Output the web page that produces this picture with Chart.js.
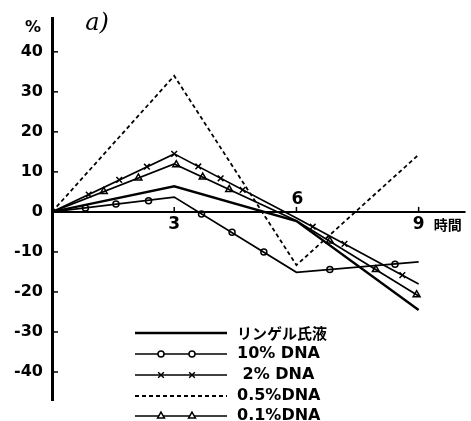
<!DOCTYPE html>
<html>
<head>
<meta charset="utf-8">
<script src="https://cdn.jsdelivr.net/npm/chart.js@4.4.0/dist/chart.umd.min.js"></script>
<style>
  html, body { margin: 0; padding: 0; background: #fff; }
  #wrap { width: 471px; height: 421px; }
</style>
</head>
<body>
<div id="wrap"><canvas id="grafico" width="471" height="421"></canvas></div>
<script>
// horas dos vértices (0, 3, 6, 9)
const horas = [0, 3, 6, 9];
const ringer = [0, 6.4, -2.3, -24.5];
const dna10 = [0, 3.7, -15.1, -12.5];
const dna2 = [0, 14.5, -1.5, -18];
const dna05 = [0, 34, -13.3, 14.3];
const dna01 = [0, 12, -2.2, -21];

// marcadores ao longo das linhas
const horasM10 = [0.82, 1.57, 2.37, 3.67, 4.42, 5.2, 6.82, 8.42];
const valM10 = [1.0, 2.0, 2.8, -0.5, -5.1, -10, -14.4, -13.1];
const horasM2 = [0.9, 1.65, 2.33, 3, 3.59, 4.14, 4.68, 6.4, 7.18, 8.6];
const valM2 = [4.35, 8.0, 11.3, 14.5, 11.35, 8.4, 5.5, -3.7, -8.0, -15.8];
const horasM01 = [1.27, 2.12, 3.05, 3.7, 4.35, 6.82, 7.95, 8.95];
const valM01 = [5.1, 8.5, 11.8, 8.7, 5.6, -7.3, -14.4, -20.7];

const yTicks = [40, 30, 20, 10, 0, -10, -20, -30, -40];
const xTicks = [3, 6, 9];
const legendas = ['リンゲル氏液', '10% DNA', ' 2% DNA', '0.5%DNA', '0.1%DNA'];

const pts = (xs, ys) => xs.map((x, i) => ({ x, y: ys[i] }));

const linha = (label, ys, extra) => Object.assign({
    label,
    data: pts(horas, ys),
    borderColor: '#000',
    borderWidth: 1.7,
    pointRadius: 0,
    tension: 0,
    fill: false
}, extra);

const marcas = (xs, ys, estilo, raio) => ({
    data: pts(xs, ys),
    showLine: false,
    pointStyle: estilo,
    pointRadius: raio,
    pointBorderWidth: 1.5,
    pointBorderColor: '#000',
    pointBackgroundColor: '#fff'
});

const estilos = [
    { dash: [], width: 2.4, mark: null },
    { dash: [], width: 1.7, mark: 'circle', r: 3 },
    { dash: [], width: 1.7, mark: 'crossRot', r: 4 },
    { dash: [4, 3], width: 1.8, mark: null },
    { dash: [], width: 1.7, mark: 'triangle', r: 4 }
];

const eixos = {
    id: 'eixos',
    afterDraw(chart) {
        const { ctx, scales: { x, y } } = chart;
        const y0 = y.getPixelForValue(0);
        ctx.save();
        ctx.strokeStyle = '#000';
        ctx.fillStyle = '#000';

        // eixo horizontal
        ctx.lineWidth = 2;
        ctx.beginPath();
        ctx.moveTo(x.left, y0);
        ctx.lineTo(x.right, y0);
        ctx.stroke();

        // marcas do eixo y
        ctx.lineWidth = 1.5;
        yTicks.forEach(v => {
            const py = y.getPixelForValue(v);
            ctx.beginPath();
            ctx.moveTo(x.left, py);
            ctx.lineTo(x.left + 6, py);
            ctx.stroke();
        });

        // marcas e rótulos do eixo x
        ctx.font = 'bold 17px "DejaVu Sans"';
        ctx.textAlign = 'center';
        ctx.textBaseline = 'middle';
        xTicks.forEach(v => {
            const px = x.getPixelForValue(v);
            ctx.beginPath();
            ctx.moveTo(px, y0 - 5);
            ctx.lineTo(px, y0);
            ctx.stroke();
            const ly = v === 6 ? y0 - 12 : y0 + 13;
            ctx.fillText(String(v), px + (v === 6 ? 1 : 0), ly);
        });
        ctx.font = 'bold 14px "Noto Sans CJK JP"';
        ctx.textAlign = 'left';
        ctx.fillText('時間', x.getPixelForValue(9) + 15, y0 + 13);

        ctx.font = 'bold 16px "DejaVu Sans"';
        ctx.textAlign = 'center';
        ctx.fillText('%', 33, 28);
        ctx.font = 'italic 24px "DejaVu Serif"';
        ctx.fillText('a)', 97, 24);

        // legenda
        legendas.forEach((txt, i) => {
            const ly = [333, 354, 375, 396, 416][i];
            const e = estilos[i];
            ctx.lineWidth = e.width;
            ctx.setLineDash(e.dash);
            ctx.beginPath();
            ctx.moveTo(135, ly);
            ctx.lineTo(227, ly);
            ctx.stroke();
            ctx.setLineDash([]);
            if (e.mark) {
                [161, 192].forEach(mx => {
                    ctx.lineWidth = 1.5;
                    ctx.fillStyle = '#fff';
                    Chart.helpers.drawPoint(ctx, { pointStyle: e.mark, radius: e.r, borderWidth: 1.5 }, mx, ly);
                });
                ctx.fillStyle = '#000';
            }
            ctx.font = i === 0 ? 'bold 15px "Noto Sans CJK JP"' : 'bold 16px "DejaVu Sans"';
            ctx.textAlign = 'left';
            ctx.fillText(txt, 237, ly);
        });
        ctx.restore();
    }
};

new Chart(document.getElementById('grafico'), {
    type: 'line',
    data: {
        datasets: [
            linha(legendas[0], ringer, { borderWidth: 2.4 }),
            linha(legendas[1], dna10),
            linha(legendas[2], dna2),
            linha(legendas[3], dna05, { borderDash: [4, 3], borderWidth: 1.8 }),
            linha(legendas[4], dna01),
            marcas(horasM10, valM10, 'circle', 3),
            marcas(horasM2, valM2, 'crossRot', 4),
            marcas(horasM01, valM01, 'triangle', 4)
        ]
    },
    options: {
        responsive: false,
        animation: false,
        layout: { padding: { top: 12, bottom: 21, right: 1, left: 0 } },
        plugins: { legend: { display: false }, tooltip: { enabled: false } },
        scales: {
            x: {
                type: 'linear',
                min: 0,
                max: 10.15,
                display: false
            },
            y: {
                min: -47,
                max: 48.3,
                afterFit: s => { s.width = 52; },
                afterBuildTicks: s => { s.ticks = yTicks.map(v => ({ value: v })); },
                grid: { display: false, drawTicks: false },
                border: { display: true, color: '#000', width: 3 },
                ticks: {
                    padding: 9,
                    color: '#000',
                    font: { family: 'DejaVu Sans', weight: 'bold', size: 16 }
                }
            }
        }
    },
    plugins: [eixos]
});
</script>
</body>
</html>
